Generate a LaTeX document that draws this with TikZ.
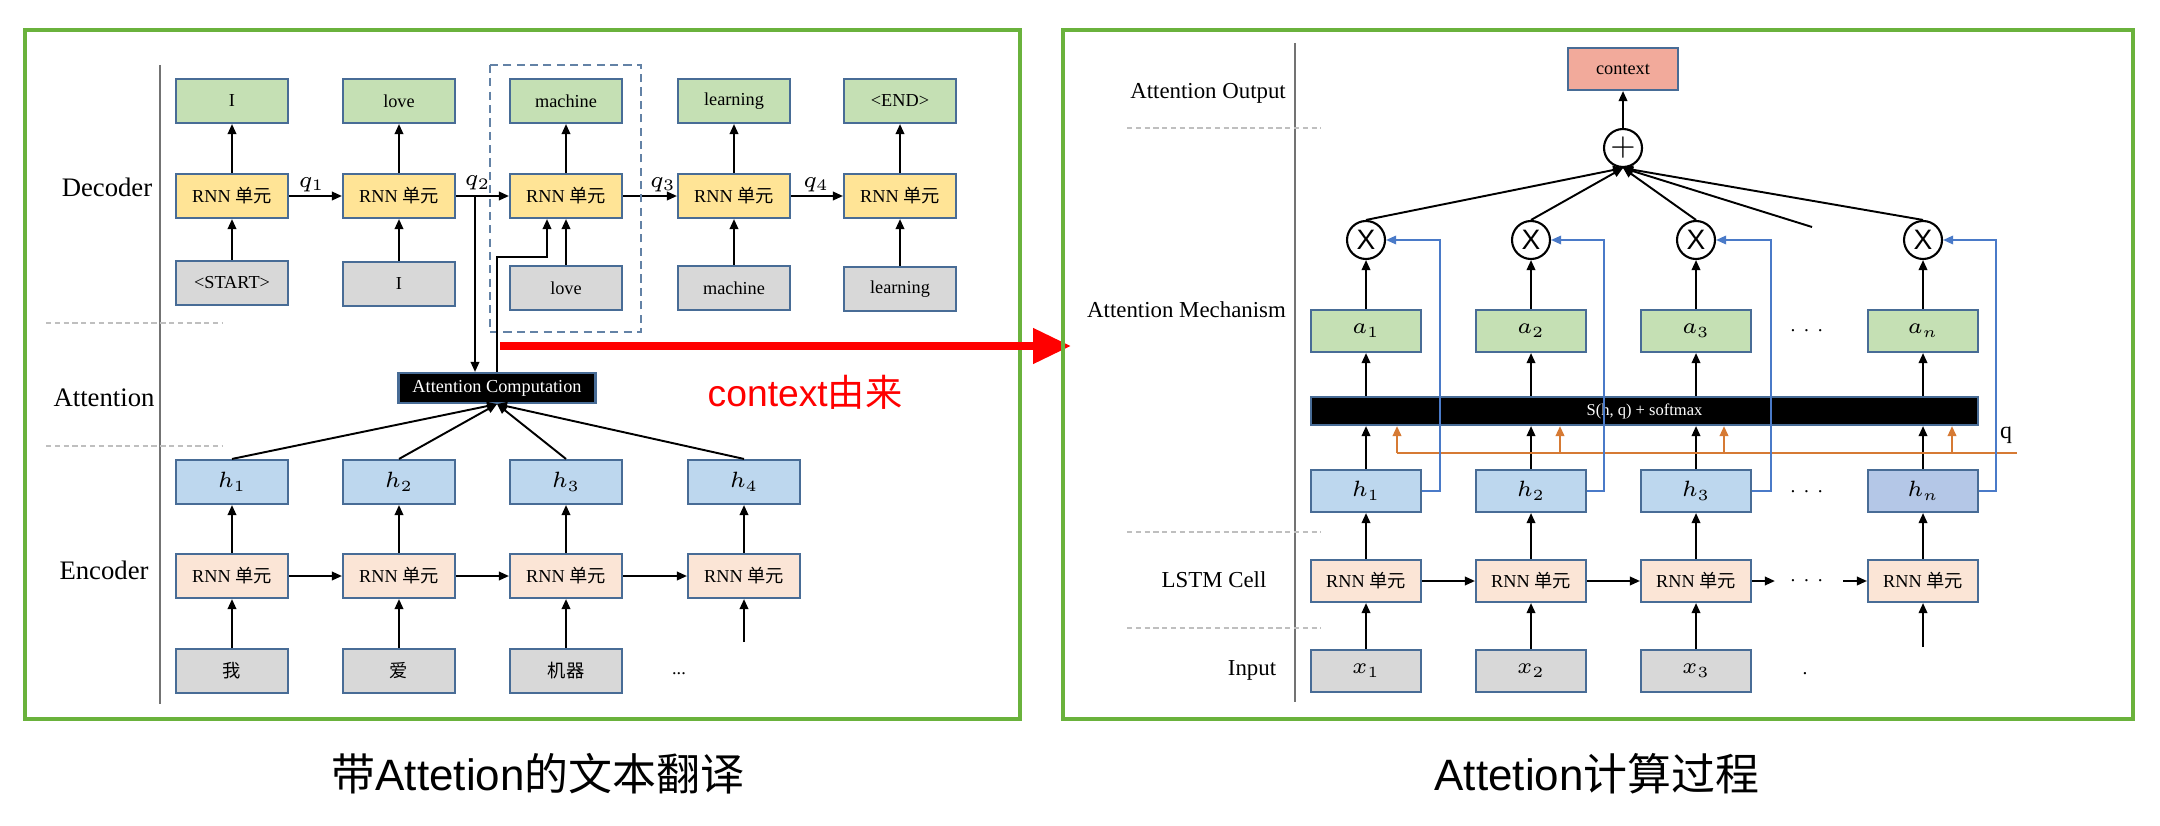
\documentclass[tikz,border=0pt]{standalone}
\usepackage{fix-cm}
\usepackage{amsmath}
\usepackage{fontspec}
\setmainfont{Liberation Serif}
\newfontfamily\cjk{Noto Sans CJK SC}
\newfontfamily\capfont{Liberation Sans}
\usepackage{tikz}
\usetikzlibrary{calc,positioning,arrows.meta}
\usepackage{xcolor}

\definecolor{framegreen}{RGB}{106,178,60}
\definecolor{boxline}{RGB}{72,108,150}
\definecolor{outgreen}{RGB}{197,224,180}
\definecolor{cellyellow}{RGB}{255,228,150}
\definecolor{ingray}{RGB}{216,216,216}
\definecolor{hblue}{RGB}{189,215,238}
\definecolor{hnblue}{RGB}{180,199,231}
\definecolor{cellpeach}{RGB}{251,229,214}
\definecolor{ctxred}{RGB}{242,170,155}
\definecolor{qorange}{RGB}{214,122,52}
\definecolor{linkblue}{RGB}{74,122,200}

\tikzset{
  basebox/.style={draw=boxline,line width=0.6pt,minimum width=1.12cm,minimum height=0.44cm,
    inner sep=0pt,font=\fontsize{5.2}{6}\selectfont},
  outbox/.style={basebox,fill=outgreen},
  rnnbox/.style={basebox,fill=cellyellow},
  inbox/.style={basebox,fill=ingray},
  hbox/.style={basebox,fill=hblue},
  encbox/.style={basebox,fill=cellpeach},
  rowlab/.style={inner sep=1pt,font=\fontsize{7.6}{9}\selectfont},
  rowlabr/.style={inner sep=1pt,font=\fontsize{6.5}{8}\selectfont},
  qlab/.style={inner sep=1pt,font=\fontsize{6.5}{8}\selectfont},
  conn/.style={->,line width=0.55pt},
  vsep/.style={black!55,line width=0.5pt},
  hsep/.style={black!25,line width=0.4pt,dash pattern=on 1.5pt off 1pt},
  opnode/.style={circle,draw,fill=white,line width=0.6pt,minimum size=0.38cm,inner sep=0pt},
  qline/.style={qorange,line width=0.6pt},
  hlink/.style={->,linkblue,line width=0.5pt}
}
\newcommand{\rnn}{RNN {\cjk 单元}}
\newcommand{\boxmath}[1]{{\fontsize{6.3}{7}\selectfont$#1$}}

\begin{document}
\begin{tikzpicture}[>={Triangle[length=1mm,width=0.85mm]}]
\useasboundingbox (0,0) rectangle (21.6,-8.26);

%% left: translation with attention
\draw[framegreen,line width=0.9pt] (0.25,-0.30) rectangle (10.20,-7.19);
\draw[vsep] (1.60,-0.65) -- (1.60,-7.04);
\draw[hsep] (0.46,-3.23) -- (2.23,-3.23);
\draw[hsep] (0.46,-4.46) -- (2.23,-4.46);
\node[rowlab] (ldec) at (1.07,-1.87) {Decoder};
\node[rowlab] (latt) at (1.04,-3.98) {Attention};
\node[rowlab] (lenc) at (1.04,-5.70) {Encoder};

% decoder
\node[outbox] (o1) at (2.32,-1.01) {I};
\node[outbox] (o2) at (3.99,-1.01) {love};
\node[outbox] (o3) at (5.66,-1.01) {machine};
\node[outbox] (o4) at (7.34,-1.01) {learning};
\node[outbox] (o5) at (9.00,-1.01) {<END>};
\node[rnnbox] (d1) at (2.32,-1.96) {\rnn};
\node[rnnbox] (d2) at (3.99,-1.96) {\rnn};
\node[rnnbox] (d3) at (5.66,-1.96) {\rnn};
\node[rnnbox] (d4) at (7.34,-1.96) {\rnn};
\node[rnnbox] (d5) at (9.00,-1.96) {\rnn};
\node[inbox] (i1) at (2.32,-2.83) {<START>};
\node[inbox] (i2) at (3.99,-2.84) {I};
\node[inbox] (i3) at (5.66,-2.88) {love};
\node[inbox] (i4) at (7.34,-2.88) {machine};
\node[inbox] (i5) at (9.00,-2.89) {learning};

\draw[conn] (i1) -- (d1); \draw[conn] (d1) -- (o1);
\draw[conn] (i2) -- (d2); \draw[conn] (d2) -- (o2);
\draw[conn] (i3) -- (d3); \draw[conn] (d3) -- (o3);
\draw[conn] (i4) -- (d4); \draw[conn] (d4) -- (o4);
\draw[conn] (i5) -- (d5); \draw[conn] (d5) -- (o5);
\draw[conn] (d1) -- (d2) node[qlab,pos=0.1,above right] {$q_1$};
\draw[conn] (d2) -- (d3) node[qlab,pos=0.05,above right,inner sep=1.5pt] {$q_2$};
\draw[conn] (d3) -- (d4) node[qlab,pos=0.42,above right] {$q_3$};
\draw[conn] (d4) -- (d5) node[qlab,pos=0.15,above right] {$q_4$};

\draw[boxline!85,line width=0.6pt,dash pattern=on 2.3pt off 1.5pt] (4.90,-0.65) rectangle (6.41,-3.32);

% attention
\node[basebox,fill=black,text=white,minimum width=1.97cm,minimum height=0.30cm] (ac) at (4.97,-3.88) {Attention Computation};
\coordinate (q2b) at (4.75,-1.96);
\draw[conn] (q2b) -- (q2b |- ac.north);
\draw[conn] (ac.north) -- ++(0,1.15) -| ([xshift=-0.19cm]d3.south);

% encoder
\node[hbox] (h1) at (2.32,-4.82) {\boxmath{h_1}};
\node[hbox] (h2) at (3.99,-4.82) {\boxmath{h_2}};
\node[hbox] (h3) at (5.66,-4.82) {\boxmath{h_3}};
\node[hbox] (h4) at (7.44,-4.82) {\boxmath{h_4}};
\node[encbox] (e1) at (2.32,-5.76) {\rnn};
\node[encbox] (e2) at (3.99,-5.76) {\rnn};
\node[encbox] (e3) at (5.66,-5.76) {\rnn};
\node[encbox] (e4) at (7.44,-5.76) {\rnn};
\node[inbox] (w1) at (2.32,-6.71) {\cjk 我};
\node[inbox] (w2) at (3.99,-6.71) {\cjk 爱};
\node[inbox] (w3) at (5.66,-6.71) {\cjk 机器};
\node[font=\fontsize{5.2}{6}\selectfont] (wd) at (6.79,-6.74) {...};
\coordinate (w4) at (7.44,-6.42);

\draw[conn] (w1) -- (e1); \draw[conn] (e1) -- (h1);
\draw[conn] (w2) -- (e2); \draw[conn] (e2) -- (h2);
\draw[conn] (w3) -- (e3); \draw[conn] (e3) -- (h3);
\draw[conn] (w4) -- (e4); \draw[conn] (e4) -- (h4);
\draw[conn] (e1) -- (e2); \draw[conn] (e2) -- (e3); \draw[conn] (e3) -- (e4);
\draw[conn] (h1.north) -- (ac.south);
\draw[conn] (h2.north) -- (ac.south);
\draw[conn] (h3.north) -- (ac.south);
\draw[conn] (h4.north) -- (ac.south);

% where the context comes from
\coordinate (rs) at (5.00,-3.46);
\coordinate (re) at (10.71,-3.46);
\draw[red,line width=2.2pt,-{Triangle[length=3.8mm,width=3.4mm]}] (rs) -- (re);
\node[text=red,font=\fontsize{10.6}{12}\selectfont] (why) at (8.05,-3.92) {{\capfont context}{\cjk 由来}};

%% right: attention computation
\draw[framegreen,line width=0.9pt] (10.63,-0.30) rectangle (21.33,-7.19);
\draw[vsep] (12.95,-0.43) -- (12.95,-7.02);
\draw[hsep] (11.27,-1.28) -- (13.21,-1.28);
\draw[hsep] (11.27,-5.32) -- (13.21,-5.32);
\draw[hsep] (11.27,-6.28) -- (13.21,-6.28);
\node[rowlabr,anchor=east] (lout) at (12.90,-0.93) {Attention Output};
\node[rowlabr,anchor=east] (lmech) at (12.90,-3.10) {Attention Mechanism};
\node[rowlabr] (lcell) at (12.14,-5.80) {LSTM Cell};
\node[rowlabr] (lin) at (12.52,-6.70) {Input};

\node[basebox,fill=ctxred,minimum width=1.10cm,minimum height=0.42cm] (ctx) at (16.23,-0.69) {context};
\node[opnode,font=\fontsize{9}{10}\selectfont] (sum) at (16.23,-1.48) {$+$};
\node[opnode,font=\capfont\fontsize{8}{9}\selectfont] (m1) at (13.66,-2.40) {X};
\node[opnode,font=\capfont\fontsize{8}{9}\selectfont] (m2) at (15.31,-2.40) {X};
\node[opnode,font=\capfont\fontsize{8}{9}\selectfont] (m3) at (16.96,-2.40) {X};
\node[opnode,font=\capfont\fontsize{8}{9}\selectfont] (mn) at (19.23,-2.40) {X};
\coordinate (mdots) at (18.12,-2.27);

\node[outbox,minimum width=1.10cm,minimum height=0.42cm] (a1) at (13.66,-3.31) {\boxmath{a_1}};
\node[outbox,minimum width=1.10cm,minimum height=0.42cm] (a2) at (15.31,-3.31) {\boxmath{a_2}};
\node[outbox,minimum width=1.10cm,minimum height=0.42cm] (a3) at (16.96,-3.31) {\boxmath{a_3}};
\node[font=\fontsize{5.5}{6}\selectfont] (ad) at (18.09,-3.31) {$\cdots$};
\node[outbox,minimum width=1.10cm,minimum height=0.42cm] (an) at (19.23,-3.31) {\boxmath{a_n}};

\node[basebox,fill=black,text=white,minimum width=6.67cm,minimum height=0.28cm,font=\fontsize{4.7}{5}\selectfont] (sh) at (16.445,-4.11) {S(h, q) + softmax};

\node[hbox,minimum width=1.10cm,minimum height=0.42cm] (k1) at (13.66,-4.91) {\boxmath{h_1}};
\node[hbox,minimum width=1.10cm,minimum height=0.42cm] (k2) at (15.31,-4.91) {\boxmath{h_2}};
\node[hbox,minimum width=1.10cm,minimum height=0.42cm] (k3) at (16.96,-4.91) {\boxmath{h_3}};
\node[font=\fontsize{5.5}{6}\selectfont] (kd) at (18.09,-4.92) {$\cdots$};
\node[hbox,fill=hnblue,minimum width=1.10cm,minimum height=0.42cm] (kn) at (19.23,-4.91) {\boxmath{h_n}};

\node[encbox,minimum width=1.10cm,minimum height=0.42cm] (r1) at (13.66,-5.81) {\rnn};
\node[encbox,minimum width=1.10cm,minimum height=0.42cm] (r2) at (15.31,-5.81) {\rnn};
\node[encbox,minimum width=1.10cm,minimum height=0.42cm] (r3) at (16.96,-5.81) {\rnn};
\node[font=\fontsize{5.5}{6}\selectfont,inner sep=0.13cm] (rd) at (18.09,-5.81) {$\cdots$};
\node[encbox,minimum width=1.10cm,minimum height=0.42cm] (rn) at (19.23,-5.81) {\rnn};

\node[inbox,minimum width=1.10cm,minimum height=0.42cm] (x1) at (13.66,-6.71) {\boxmath{x_1}};
\node[inbox,minimum width=1.10cm,minimum height=0.42cm] (x2) at (15.31,-6.71) {\boxmath{x_2}};
\node[inbox,minimum width=1.10cm,minimum height=0.42cm] (x3) at (16.96,-6.71) {\boxmath{x_3}};
\node[font=\fontsize{5.5}{6}\selectfont] (xd) at (18.05,-6.74) {.};
\coordinate (xn) at (19.23,-6.47);

% cells and states
\draw[conn] (x1) -- (r1); \draw[conn] (r1) -- (k1);
\draw[conn] (x2) -- (r2); \draw[conn] (r2) -- (k2);
\draw[conn] (x3) -- (r3); \draw[conn] (r3) -- (k3);
\draw[conn] (xn) -- (rn); \draw[conn] (rn) -- (kn);
\draw[conn] (r1) -- (r2); \draw[conn] (r2) -- (r3);
\draw[conn] (r3) -- (rd); \draw[conn] (rd) -- (rn);

% scores
\draw[conn] (k1.north) -- (k1.north |- sh.south);
\draw[conn] (k2.north) -- (k2.north |- sh.south);
\draw[conn] (k3.north) -- (k3.north |- sh.south);
\draw[conn] (kn.north) -- (kn.north |- sh.south);
\coordinate (qa) at (13.97,-4.53);
\coordinate (qb) at (15.60,-4.53);
\coordinate (qc) at (17.24,-4.53);
\coordinate (qd) at (19.52,-4.53);
\coordinate (qe) at (20.17,-4.53);
\draw[qline] (qa) -- (qe);
\draw[qline,->] (qa) -- (qa |- sh.south);
\draw[qline,->] (qb) -- (qb |- sh.south);
\draw[qline,->] (qc) -- (qc |- sh.south);
\draw[qline,->] (qd) -- (qd |- sh.south);
\node[font=\fontsize{6.8}{8}\selectfont] (qlab) at (20.06,-4.35) {q};

% weights
\draw[conn] (a1.south |- sh.north) -- (a1.south); \draw[conn] (a1) -- (m1);
\draw[conn] (a2.south |- sh.north) -- (a2.south); \draw[conn] (a2) -- (m2);
\draw[conn] (a3.south |- sh.north) -- (a3.south); \draw[conn] (a3) -- (m3);
\draw[conn] (an.south |- sh.north) -- (an.south); \draw[conn] (an) -- (mn);
\draw[hlink] (k1.east) -- ++(0.18,0) |- (m1.east);
\draw[hlink] (k2.east) -- ++(0.17,0) |- (m2.east);
\draw[hlink] (k3.east) -- ++(0.19,0) |- (m3.east);
\draw[hlink] (kn.east) -- ++(0.17,0) |- (mn.east);

% weighted sum
\draw[conn] (m1.north) -- (sum.south);
\draw[conn] (m2.north) -- (sum.south);
\draw[conn] (m3.north) -- (sum.south);
\draw[conn] (mdots) -- (sum.south);
\draw[conn] (mn.north) -- (sum.south);
\draw[conn] (sum) -- (ctx);

% captions
\node[font=\capfont\fontsize{12.5}{14}\selectfont] (cap1) at (5.38,-7.74) {{\cjk 带}Attetion{\cjk 的文本翻译}};
\node[font=\capfont\fontsize{12.5}{14}\selectfont] (cap2) at (15.97,-7.74) {Attetion{\cjk 计算过程}};
\end{tikzpicture}
\end{document}
